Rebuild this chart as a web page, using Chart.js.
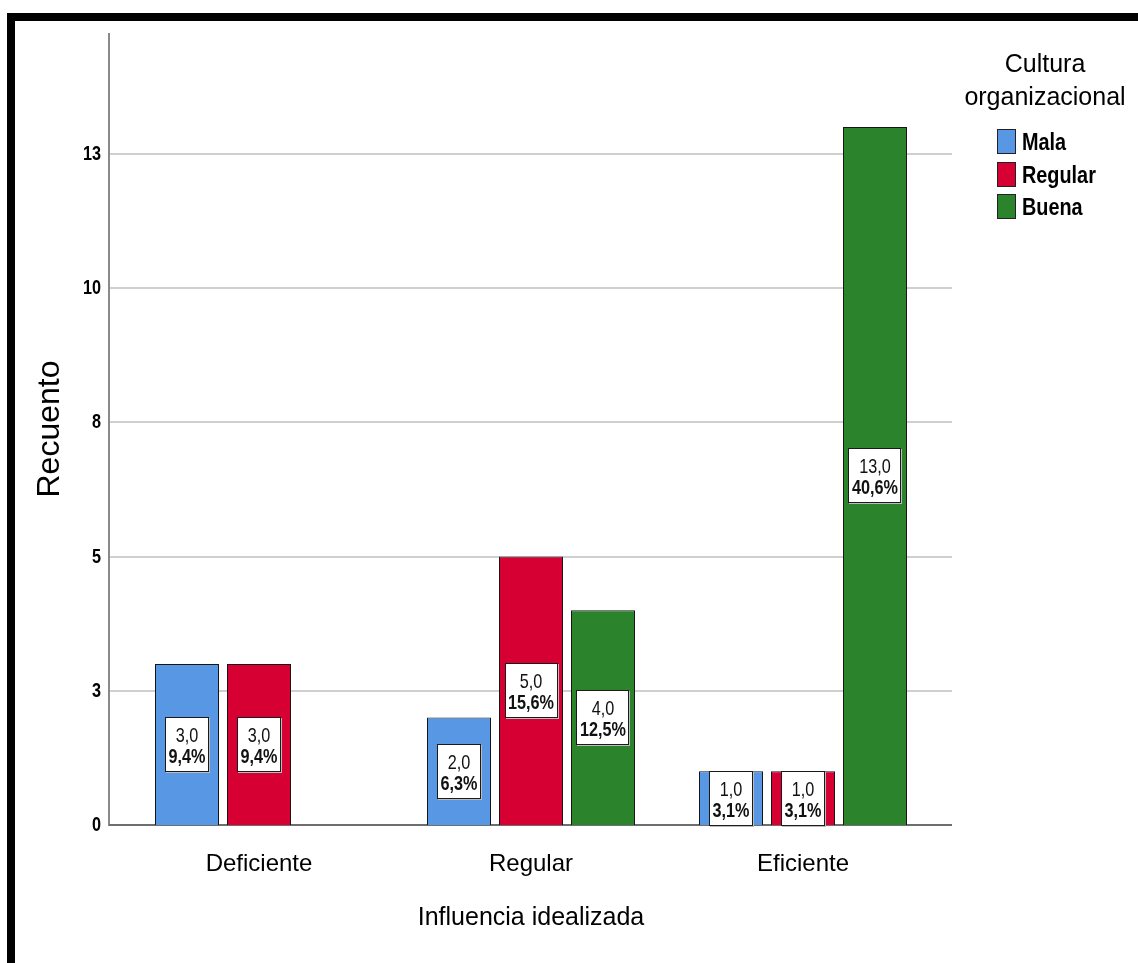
<!DOCTYPE html>
<html>
<head>
<meta charset="utf-8">
<script src="https://cdn.jsdelivr.net/npm/chart.js@4.4.1/dist/chart.umd.min.js"></script>
<style>
  html, body { margin: 0; padding: 0; background: #fff; overflow: hidden; }
  #frame { position: absolute; left: 7px; top: 13px; width: 1300px; height: 1100px; border-top: 8px solid #000; border-left: 8px solid #000; }
  #chart { position: absolute; left: 0; top: 0; }
</style>
</head>
<body>
<div id="frame"></div>
<canvas id="chart" width="1138" height="963"></canvas>
<script>
// chart data
const categories = ['Deficiente', 'Regular', 'Eficiente'];
const seriesNames = ['Mala', 'Regular', 'Buena'];
const malaCounts = [3, 2, 1];
const regularCounts = [3, 5, 1];
const buenaCounts = [0, 4, 13];
const tickValues = [0, 2.5, 5, 7.5, 10, 12.5];
const tickLabels = ['0', '3', '5', '8', '10', '13'];
const legendTitle = ['Cultura', 'organizacional'];
const seriesColors = ['#5797e4', '#d60032', '#2b832b'];

const SANS = '"Liberation Sans", Arial, sans-serif';
const SQUEEZE = 0.82; // no Arial Narrow here, so squeeze Liberation Sans
const STRETCH = 1.1;  // the original picture is a little taller than wide

const total = [...malaCounts, ...regularCounts, ...buenaCounts].reduce((a, b) => a + b, 0);
const fmt = (n) => n.toFixed(1).replace('.', ',');

const narrowWidth = (ctx, text, font) => {
  ctx.font = font;
  return ctx.measureText(text).width * SQUEEZE * STRETCH;
};

const narrowText = (ctx, text, x, y, font, align) => {
  ctx.save();
  ctx.translate(x, y);
  ctx.scale(SQUEEZE * STRETCH, STRETCH);
  ctx.font = font;
  ctx.textAlign = align;
  ctx.textBaseline = 'middle';
  ctx.fillText(text, 0, 0);
  ctx.restore();
};

// gridlines + axis lines + y tick labels
const axisLines = {
  id: 'axisLines',
  beforeDatasetsDraw(chart) {
    const { ctx, chartArea, scales: { y } } = chart;
    const left = chartArea.left - 14;
    const right = chartArea.right + 13;
    const line = (x1, y1, x2, y2) => {
      ctx.beginPath();
      ctx.moveTo(x1, y1);
      ctx.lineTo(x2, y2);
      ctx.stroke();
    };
    ctx.save();
    ctx.lineWidth = 2;
    ctx.strokeStyle = '#d0d0d0';
    y.ticks.forEach((t, i) => {
      const py = Math.round(y.getPixelForValue(t.value));
      if (t.value !== 0) line(left, py, right, py);
      ctx.fillStyle = '#000';
      narrowText(ctx, tickLabels[i], left - 8, py + 1, 'bold 18px ' + SANS, 'right');
    });
    ctx.strokeStyle = '#8a8a8a';
    line(left, chartArea.top, left, chartArea.bottom + 1);
    ctx.strokeStyle = '#6e6e6e';
    line(left, chartArea.bottom, right, chartArea.bottom);
    ctx.restore();
  }
};

// white boxes with count and percent
const barLabels = {
  id: 'barLabels',
  afterDatasetsDraw(chart) {
    const { ctx } = chart;
    ctx.save();
    chart.data.datasets.forEach((ds, di) => {
      const meta = chart.getDatasetMeta(di);
      meta.data.forEach((bar, i) => {
        const v = ds.data[i];
        if (!v) return;
        const line1 = fmt(v);
        const line2 = fmt(v / total * 100) + '%';
        const w1 = narrowWidth(ctx, line1, '18px ' + SANS);
        const w2 = narrowWidth(ctx, line2, 'bold 18px ' + SANS);
        const w = Math.round(Math.max(w1, w2) + 7);
        const h = 55;
        const cy = (bar.y + bar.base) / 2;
        const bx = Math.round(bar.x - w / 2);
        const by = Math.round(cy - h / 2);
        ctx.fillStyle = '#bdbdbd';
        ctx.fillRect(bx + 1, by + 1, w, h);
        ctx.fillStyle = '#fff';
        ctx.fillRect(bx, by, w, h);
        ctx.strokeStyle = '#1a1a1a';
        ctx.lineWidth = 1;
        ctx.strokeRect(bx + 0.5, by + 0.5, w - 1, h - 1);
        ctx.fillStyle = '#111';
        narrowText(ctx, line1, bar.x, by + 20, '18px ' + SANS, 'center');
        narrowText(ctx, line2, bar.x, by + 41, 'bold 18px ' + SANS, 'center');
      });
    });
    ctx.restore();
  }
};

const sideLegend = {
  id: 'sideLegend',
  afterDraw(chart) {
    const { ctx } = chart;
    ctx.save();
    ctx.fillStyle = '#000';
    ctx.textAlign = 'center';
    ctx.textBaseline = 'middle';
    ctx.font = '25px ' + SANS;
    legendTitle.forEach((t, i) => ctx.fillText(t, 1045, 65 + i * 33));
    chart.data.datasets.forEach((ds, i) => {
      const y0 = Math.round(129 + i * 32.5);
      ctx.fillStyle = ds.backgroundColor;
      ctx.fillRect(997, y0, 19, 25);
      ctx.strokeStyle = '#222';
      ctx.lineWidth = 1;
      ctx.strokeRect(997.5, y0 + 0.5, 18, 24);
      ctx.fillStyle = '#000';
      narrowText(ctx, ds.label, 1022, y0 + 14, 'bold 22px ' + SANS, 'left');
    });
    ctx.restore();
  }
};

const seriesData = [malaCounts, regularCounts, buenaCounts];

new Chart(document.getElementById('chart'), {
  type: 'bar',
  data: {
    labels: categories,
    datasets: seriesNames.map((name, i) => ({
      label: name,
      data: seriesData[i],
      backgroundColor: seriesColors[i],
      borderColor: '#161616',
      borderWidth: 1,
      categoryPercentage: 0.794,
      barPercentage: 0.889
    }))
  },
  options: {
    responsive: false,
    animation: false,
    layout: { padding: { left: 31, right: 199, top: 33, bottom: 30 } },
    plugins: {
      legend: { display: false },
      tooltip: { enabled: false }
    },
    scales: {
      x: {
        grid: { display: false },
        border: { display: false },
        ticks: { color: '#000', padding: 17, font: { family: SANS, size: 24 } },
        title: { display: true, text: 'Influencia idealizada', color: '#000', padding: 0, font: { family: SANS, size: 25 } },
        afterFit: (s) => { s.height = 108; }
      },
      y: {
        min: 0,
        max: 14.75,
        afterBuildTicks: (s) => { s.ticks = tickValues.map(v => ({ value: v })); },
        grid: { display: false, drawTicks: false },
        border: { display: false },
        ticks: { display: false },
        title: { display: true, text: 'Recuento', color: '#000', padding: 0, font: { family: SANS, size: 32 } },
        afterFit: (s) => { s.width = 92; }
      }
    }
  },
  plugins: [axisLines, barLabels, sideLegend]
});
</script>
</body>
</html>
